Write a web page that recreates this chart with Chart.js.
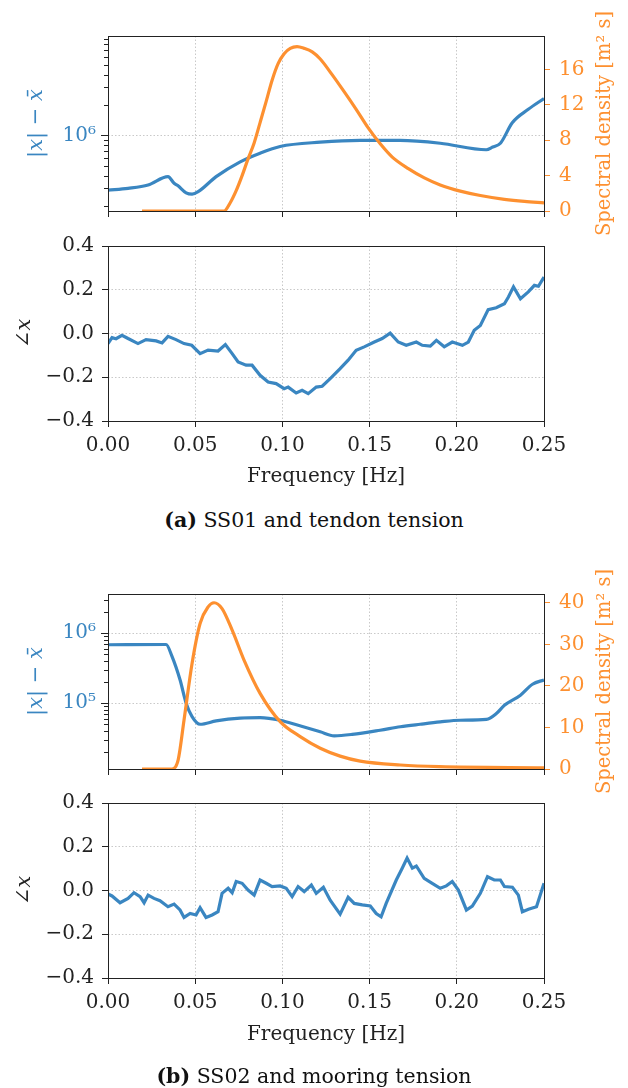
<!DOCTYPE html>
<html>
<head>
<meta charset="utf-8">
<script src="https://cdn.jsdelivr.net/npm/chart.js@4.4.3/dist/chart.umd.min.js"></script>
<style>
  body { margin: 0; background: #fff; width: 628px; height: 1088px; position: relative; overflow: hidden; }
  canvas { position: absolute; left: 0; }
  .caption { position: absolute; left: 0; width: 628px; text-align: center; font: 20.5px "DejaVu Serif", serif;
             line-height: 22px; color: #111; }
</style>
</head>
<body>
<canvas id="magA" width="628" height="240" style="top:0"></canvas>
<canvas id="phaseA" width="628" height="265" style="top:225px"></canvas>
<div class="caption" style="top:509px"><b>(a)</b> SS01 and tendon tension</div>
<canvas id="magB" width="628" height="270" style="top:550px"></canvas>
<canvas id="phaseB" width="628" height="285" style="top:775px"></canvas>
<div class="caption" style="top:1065px"><b>(b)</b> SS02 and mooring tension</div>
<script>
// ---- shared axis values ----
const freqTicks = [0, 0.05, 0.1, 0.15, 0.2, 0.25];
const phaseTicks = [-0.4, -0.2, 0, 0.2, 0.4];
const specTicksA = [0, 4, 8, 12, 16];
const specTicksB = [0, 10, 20, 30, 40];
const magLabelsA = [1e6];
const magLabelsB = [1e5, 1e6];

// ---- (a) SS01 / tendon tension ----
const freqMagA = [0, 0.0115, 0.023, 0.0344, 0.0379, 0.040, 0.0448, 0.0482, 0.0517, 0.062, 0.0758, 0.0872,
  0.0987, 0.1217, 0.1446, 0.1675, 0.1905, 0.2169, 0.2206, 0.225, 0.2318, 0.241, 0.25];
const magA = [2.88e5, 3.0e5, 3.24e5, 3.92e5, 3.37e5, 3.2e5, 2.71e5, 2.63e5, 2.78e5, 3.92e5, 5.5e5, 6.7e5,
  7.8e5, 8.6e5, 8.96e5, 8.96e5, 8.4e5, 7.24e5, 7.7e5, 8.4e5, 1.34e6, 1.82e6, 2.33e6];

const freqSpecA = [0.0195, 0.04, 0.06, 0.0666, 0.07, 0.0735, 0.0769, 0.0803, 0.0838, 0.0872, 0.0907, 0.0941,
  0.0976, 0.101, 0.1045, 0.1084, 0.1125, 0.1171, 0.1217, 0.1286, 0.1354, 0.1423, 0.1492, 0.1561, 0.163,
  0.1722, 0.1814, 0.1905, 0.202, 0.2135, 0.2273, 0.2388, 0.25];
const specA = [0, 0, 0, 0, 0.9, 2.3, 4.0, 5.9, 7.7, 10.0, 12.4, 14.8, 16.7, 17.8, 18.4, 18.6, 18.4, 18.0,
  17.2, 15.4, 13.5, 11.5, 9.4, 7.6, 6.1, 4.8, 3.75, 2.95, 2.25, 1.75, 1.32, 1.08, 0.92];

const freqPhaseA = [0, 0.0023, 0.0046, 0.008, 0.0115, 0.0172, 0.0218, 0.0276, 0.031, 0.0344, 0.039, 0.0436,
  0.048, 0.0528, 0.0574, 0.0631, 0.0673, 0.0712, 0.0746, 0.0792, 0.0826, 0.0872, 0.0918, 0.0964, 0.101,
  0.1033, 0.1079, 0.1113, 0.1148, 0.1194, 0.1228, 0.1274, 0.1331, 0.1377, 0.1423, 0.1469, 0.1527, 0.1572,
  0.1618, 0.1664, 0.171, 0.1768, 0.1802, 0.1848, 0.1883, 0.1928, 0.1974, 0.2032, 0.2066, 0.21, 0.2135,
  0.218, 0.2226, 0.2273, 0.2296, 0.2325, 0.2365, 0.241, 0.2445, 0.2468, 0.25];
const phaseA = [-0.046, -0.019, -0.024, -0.008, -0.023, -0.046, -0.028, -0.034, -0.043, -0.013, -0.028, -0.046,
  -0.054, -0.092, -0.076, -0.08, -0.051, -0.092, -0.13, -0.145, -0.145, -0.191, -0.222, -0.229, -0.252,
  -0.245, -0.272, -0.26, -0.275, -0.245, -0.241, -0.206, -0.161, -0.122, -0.077, -0.061, -0.039, -0.023,
  0.002, -0.039, -0.054, -0.039, -0.054, -0.058, -0.031, -0.061, -0.039, -0.054, -0.039, 0.015, 0.037,
  0.109, 0.118, 0.136, 0.167, 0.213, 0.159, 0.19, 0.22, 0.216, 0.258];

// ---- (b) SS02 / mooring tension ----
const freqMagB = [0, 0.0333, 0.0367, 0.0413, 0.0448, 0.0482, 0.0528, 0.062, 0.0758, 0.0872, 0.0987, 0.11,
  0.1217, 0.1297, 0.14, 0.156, 0.1676, 0.179, 0.1905, 0.202, 0.217, 0.2227, 0.2273, 0.2365, 0.2434, 0.25];
const magB = [6.8e5, 6.86e5, 4.64e5, 2.15e5, 1.0e5, 6.44e4, 5.0e4, 5.57e4, 6.1e4, 6.2e4, 5.7e4, 4.75e4,
  3.9e4, 3.42e4, 3.58e4, 4.1e4, 4.6e4, 5.0e4, 5.4e4, 5.7e4, 5.85e4, 7.1e4, 9.3e4, 1.3e5, 1.86e5, 2.14e5];

const freqSpecB = [0.0195, 0.03, 0.0367, 0.0402, 0.0436, 0.0482, 0.0528, 0.0574, 0.0608, 0.0654, 0.0712,
  0.078, 0.0872, 0.0987, 0.1102, 0.1217, 0.1331, 0.1446, 0.1676, 0.19, 0.25];
const specB = [0, 0, 0, 2.16, 11.8, 25.4, 35.0, 39.0, 40.0, 38.6, 33.4, 26.2, 18.2, 11.4, 7.8, 5.0, 3.1,
  1.9, 0.96, 0.56, 0.3];

const freqPhaseB = [0, 0.0023, 0.0069, 0.0115, 0.0149, 0.0184, 0.0207, 0.023, 0.0264, 0.0298, 0.0344, 0.0379,
  0.0413, 0.0436, 0.0471, 0.0505, 0.0528, 0.0562, 0.0597, 0.0631, 0.0654, 0.0689, 0.0712, 0.0735, 0.0769,
  0.0803, 0.0838, 0.0872, 0.0907, 0.0941, 0.0987, 0.1022, 0.1056, 0.109, 0.1125, 0.1166, 0.1194, 0.1235,
  0.1274, 0.1331, 0.1377, 0.1412, 0.1458, 0.1504, 0.1538, 0.1566, 0.1595, 0.1653, 0.1687, 0.1715, 0.1745,
  0.1768, 0.1813, 0.1859, 0.1905, 0.194, 0.1974, 0.2009, 0.2055, 0.2089, 0.2135, 0.2176, 0.2215, 0.225,
  0.2273, 0.2319, 0.2353, 0.2376, 0.2411, 0.2457, 0.25];
const phaseB = [-0.016, -0.025, -0.056, -0.036, -0.01, -0.028, -0.056, -0.021, -0.036, -0.047, -0.074, -0.062,
  -0.089, -0.123, -0.105, -0.112, -0.079, -0.123, -0.112, -0.097, -0.013, 0.01, -0.01, 0.041, 0.033,
  0.002, -0.021, 0.048, 0.033, 0.018, 0.021, 0.01, -0.028, 0.018, -0.005, 0.025, -0.013, 0.015,
  -0.044, -0.108, -0.031, -0.059, -0.066, -0.071, -0.105, -0.12, -0.059, 0.048, 0.102, 0.148, 0.102,
  0.112, 0.056, 0.033, 0.01, 0.021, 0.041, 0.002, -0.089, -0.071, -0.013, 0.063, 0.048, 0.048,
  0.018, 0.015, -0.021, -0.097, -0.086, -0.074, 0.033];

// ---- styling ----
const INK = '#222';
const GRID = '#c9c9c9';
const BLUE = '#3a86c1';
const ORANGE = '#fd9030';
const FAMILY = "'DejaVu Serif', serif";
const TICK_SIZE = 20;
const FONT_N = '21px ' + FAMILY;
const FONT_I = 'italic 21px ' + FAMILY;
const LEFT_W = 108;
const RIGHT_W = 84;

const pts = (xs, ys) => xs.map((x, i) => ({ x, y: ys[i] }));
const SUP = { '0': '⁰', '1': '¹', '2': '²', '3': '³', '4': '⁴', '5': '⁵', '6': '⁶', '7': '⁷', '8': '⁸', '9': '⁹' };
const powerLabel = v => '10' + String(Math.round(Math.log10(v))).split('').map(c => SUP[c]).join('');

// 1..9 x 10^n ticks inside [min, max]
function decadeTicks(min, max, labelled) {
  const out = [];
  for (let e = Math.floor(Math.log10(min)); e <= Math.ceil(Math.log10(max)); e++) {
    for (let m = 1; m <= 9; m++) {
      const v = m * Math.pow(10, e);
      if (v >= min && v <= max) out.push({ value: v, major: labelled.includes(v) });
    }
  }
  return out;
}

// text made of runs with different fonts, centred on (x, y)
function drawRuns(ctx, runs, x, y, angle, color) {
  ctx.save();
  ctx.translate(x, y);
  ctx.rotate(angle);
  ctx.fillStyle = color;
  ctx.textBaseline = 'middle';
  ctx.textAlign = 'left';
  let total = 0;
  runs.forEach(r => { ctx.font = r.f; total += ctx.measureText(r.t).width; });
  let cx = -total / 2;
  runs.forEach(r => { ctx.font = r.f; ctx.fillText(r.t, cx, 0); cx += ctx.measureText(r.t).width; });
  ctx.restore();
}

const framePlugin = {
  id: 'frame',
  afterDraw(chart) {
    const { ctx, chartArea: a } = chart;
    ctx.save();
    ctx.strokeStyle = INK;
    ctx.lineWidth = 1;
    ctx.strokeRect(Math.round(a.left) + 0.5, Math.round(a.top) + 0.5,
      Math.round(a.right - a.left), Math.round(a.bottom - a.top));
    ctx.restore();
  }
};

const minorTicks = {
  id: 'minorTicks',
  afterDraw(chart) {
    const s = chart.scales.y;
    if (!s || s.type !== 'logarithmic') return;
    const ctx = chart.ctx;
    ctx.save();
    ctx.strokeStyle = INK;
    ctx.lineWidth = 1;
    s.ticks.forEach(t => {
      if (t.major) return;
      const y = Math.round(s.getPixelForValue(t.value)) + 0.5;
      ctx.beginPath();
      ctx.moveTo(s.right - 4, y);
      ctx.lineTo(s.right, y);
      ctx.stroke();
    });
    ctx.restore();
  }
};

const axisTitles = {
  id: 'axisTitles',
  afterDraw(chart, args, opts) {
    const a = chart.chartArea;
    const midY = (a.top + a.bottom) / 2;
    const midX = (a.left + a.right) / 2;
    (opts.items || []).forEach(it => {
      drawRuns(chart.ctx, it.runs, it.x != null ? it.x : midX, it.y != null ? it.y : midY,
        it.angle || 0, it.color || INK);
    });
  }
};

Chart.register(framePlugin, minorTicks, axisTitles);

const magTitle = [{ t: '|', f: FONT_N }, { t: 'x', f: FONT_I }, { t: '| − ', f: FONT_N }, { t: 'x\u0304', f: FONT_I }];
const phaseTitle = [{ t: '∠', f: FONT_N }, { t: 'x', f: FONT_I }];
const specTitle = [{ t: 'Spectral density [m² s]', f: '19.5px ' + FAMILY }];
const freqTitle = [{ t: 'Frequency [Hz]', f: '20px ' + FAMILY }];

function freqAxis(height, showLabels) {
  return {
    type: 'linear', min: 0, max: 0.25,
    afterBuildTicks: s => { s.ticks = freqTicks.map(v => ({ value: v })); },
    afterFit: s => { s.height = height; s.paddingLeft = 0; s.paddingRight = 0; },
    ticks: { display: showLabels, color: INK, font: { family: FAMILY, size: TICK_SIZE }, padding: 7,
      maxRotation: 0, autoSkip: false, callback: v => v.toFixed(2) },
    grid: { color: GRID, tickColor: INK, tickLength: 6, lineWidth: 1 },
    border: { display: false, dash: [1.5, 2] }
  };
}

function makeMag(id, o) {
  return new Chart(document.getElementById(id), {
    type: 'line',
    data: {
      datasets: [
        { data: pts(o.freqSpec, o.spec), yAxisID: 'y2', borderColor: ORANGE, borderWidth: 3.2,
          pointRadius: 0, cubicInterpolationMode: 'monotone', order: 0 },
        { data: pts(o.freqMag, o.mag), yAxisID: 'y', borderColor: BLUE, borderWidth: 3.2,
          pointRadius: 0, cubicInterpolationMode: 'monotone', order: 1 }
      ]
    },
    options: {
      responsive: false, animation: false, events: [],
      layout: { padding: { top: o.padTop, left: 0, right: 0, bottom: 0 } },
      scales: {
        x: freqAxis(o.xHeight, false),
        y: {
          type: 'logarithmic', position: 'left', min: o.magMin, max: o.magMax,
          afterBuildTicks: s => { s.ticks = decadeTicks(o.magMin, o.magMax, o.magLabels); },
          afterFit: s => { s.width = LEFT_W; s.paddingTop = 0; s.paddingBottom = 0; },
          ticks: { color: BLUE, font: { family: FAMILY, size: TICK_SIZE }, padding: 5, autoSkip: false,
            callback: v => o.magLabels.includes(v) ? powerLabel(v) : '' },
          grid: {
            color: c => (c.tick && c.tick.major) ? GRID : 'rgba(0,0,0,0)',
            tickColor: c => (c.tick && c.tick.major) ? INK : 'rgba(0,0,0,0)',
            tickLength: 7
          },
          border: { display: false, dash: [1.5, 2] }
        },
        y2: {
          type: 'linear', position: 'right', min: 0, max: o.specMax,
          afterBuildTicks: s => { s.ticks = o.specTicks.map(v => ({ value: v })); },
          afterFit: s => { s.width = RIGHT_W; s.paddingTop = 0; s.paddingBottom = 0; },
          ticks: { color: ORANGE, font: { family: FAMILY, size: TICK_SIZE }, padding: 9, autoSkip: false },
          grid: { drawOnChartArea: false, tickColor: ORANGE, tickLength: 6 },
          border: { display: false }
        }
      },
      plugins: {
        legend: { display: false }, tooltip: { enabled: false },
        axisTitles: { items: [
          { runs: magTitle, x: 37, angle: -Math.PI / 2, color: BLUE },
          { runs: specTitle, x: 605, angle: -Math.PI / 2, color: ORANGE }
        ] }
      }
    }
  });
}

function makePhase(id, o) {
  return new Chart(document.getElementById(id), {
    type: 'line',
    data: {
      datasets: [
        { data: pts(o.freq, o.phase), borderColor: BLUE, borderWidth: 3.2, pointRadius: 0, tension: 0 }
      ]
    },
    options: {
      responsive: false, animation: false, events: [],
      layout: { padding: { top: o.padTop, left: 0, right: RIGHT_W, bottom: 0 } },
      scales: {
        x: freqAxis(o.xHeight, true),
        y: {
          type: 'linear', position: 'left', min: -0.4, max: 0.4,
          afterBuildTicks: s => { s.ticks = phaseTicks.map(v => ({ value: v })); },
          afterFit: s => { s.width = LEFT_W; s.paddingTop = 0; s.paddingBottom = 0; },
          ticks: { color: INK, font: { family: FAMILY, size: TICK_SIZE }, padding: 8, autoSkip: false,
            callback: v => v.toFixed(1).replace('-', '−') },
          grid: { color: GRID, tickColor: INK, tickLength: 6 },
          border: { display: false, dash: [1.5, 2] }
        }
      },
      plugins: {
        legend: { display: false }, tooltip: { enabled: false },
        axisTitles: { items: [
          { runs: phaseTitle, x: 25, angle: -Math.PI / 2, color: INK },
          { runs: freqTitle, y: o.titleY, color: INK }
        ] }
      }
    }
  });
}

makeMag('magA', { freqMag: freqMagA, mag: magA, freqSpec: freqSpecA, spec: specA,
  magMin: 1.79e5, magMax: 9.7e6, magLabels: magLabelsA, specMax: 19.8, specTicks: specTicksA,
  padTop: 36, xHeight: 29 });
makePhase('phaseA', { freq: freqPhaseA, phase: phaseA, padTop: 21, xHeight: 69, titleY: 252 });
makeMag('magB', { freqMag: freqMagB, mag: magB, freqSpec: freqSpecB, spec: specB,
  magMin: 1.15e4, magMax: 3.6e6, magLabels: magLabelsB, specMax: 42.1, specTicks: specTicksB,
  padTop: 44, xHeight: 51 });
makePhase('phaseB', { freq: freqPhaseB, phase: phaseB, padTop: 28, xHeight: 82, titleY: 260 });
</script>
</body>
</html>
